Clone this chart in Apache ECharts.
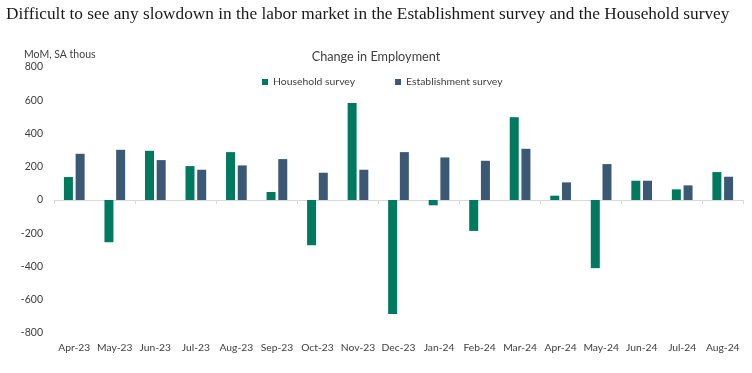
<!DOCTYPE html>
<html>
<head>
<meta charset="utf-8">
<script src="https://cdn.jsdelivr.net/npm/echarts@6/dist/echarts.min.js"></script>
<style>
html,body{margin:0;padding:0;background:#fff;}
#c{width:752px;height:373px;}
</style>
</head>
<body>
<div id="c"></div>
<script>
const categories = ['Apr-23','May-23','Jun-23','Jul-23','Aug-23','Sep-23','Oct-23','Nov-23','Dec-23','Jan-24','Feb-24','Mar-24','Apr-24','May-24','Jun-24','Jul-24','Aug-24'];
const household = [138,-254,296,204,288,48,-272,584,-686,-32,-186,498,26,-410,116,64,168];
const establishment = [278,302,240,182,208,246,164,182,288,256,236,308,106,216,116,88,140];
const yTicks = [-800,-600,-400,-200,0,200,400,600,800];

const chart = echarts.init(document.getElementById('c'), null, {renderer:'canvas'});
const labelFont = 'Lato';
chart.setOption({
  animation:false,
  title:[
    {text:'Difficult to see any slowdown in the labor market in the Establishment survey and the Household survey',
     left:1, top:1, textStyle:{fontFamily:'Liberation Serif', fontWeight:'normal', fontSize:17.3, color:'#1a1a1a'}},
    {text:'Change in Employment', left:'center', top:45, textStyle:{fontFamily:labelFont, fontWeight:'normal', fontSize:12.7, color:'#404040'}},
    {text:'MoM, SA thous', left:19, top:44, textStyle:{fontFamily:labelFont, fontWeight:'normal', fontSize:10.5, color:'#404040'}}
  ],
  legend:{
    top:72, left:257, itemWidth:6, itemHeight:6, itemGap:40, icon:'rect',
    textStyle:{fontFamily:labelFont, fontSize:10.4, color:'#404040'},
    data:['Household survey','Establishment survey']
  },
  grid:{left:54, right:9, top:67, bottom:40, containLabel:false},
  xAxis:[
    {type:'category', data:categories, position:'bottom',
     axisLine:{show:false, onZero:false}, axisTick:{show:false},
     axisLabel:{interval:0, fontFamily:labelFont, fontSize:10.3, color:'#404040', margin:10}},
    {type:'category', data:categories, position:'bottom',
     axisLine:{show:true, onZero:true, lineStyle:{color:'#d9d9d9', width:1}},
     axisTick:{show:true, length:4, lineStyle:{color:'#d9d9d9'}},
     axisLabel:{show:false}}
  ],
  yAxis:{type:'value', min:yTicks[0], max:yTicks[yTicks.length-1], interval:200,
    splitLine:{show:false}, axisLine:{show:false}, axisTick:{show:false},
    axisLabel:{fontFamily:labelFont, fontSize:10.5, color:'#404040', margin:11}},
  series:[
    {name:'Household survey', type:'bar', data:household, xAxisIndex:0, barWidth:9, barGap:'30%',
     itemStyle:{color:'#007A5E'}},
    {name:'Establishment survey', type:'bar', data:establishment, xAxisIndex:0, barWidth:9, barGap:'30%',
     itemStyle:{color:'#3B5875'}}
  ]
});
</script>
</body>
</html>
